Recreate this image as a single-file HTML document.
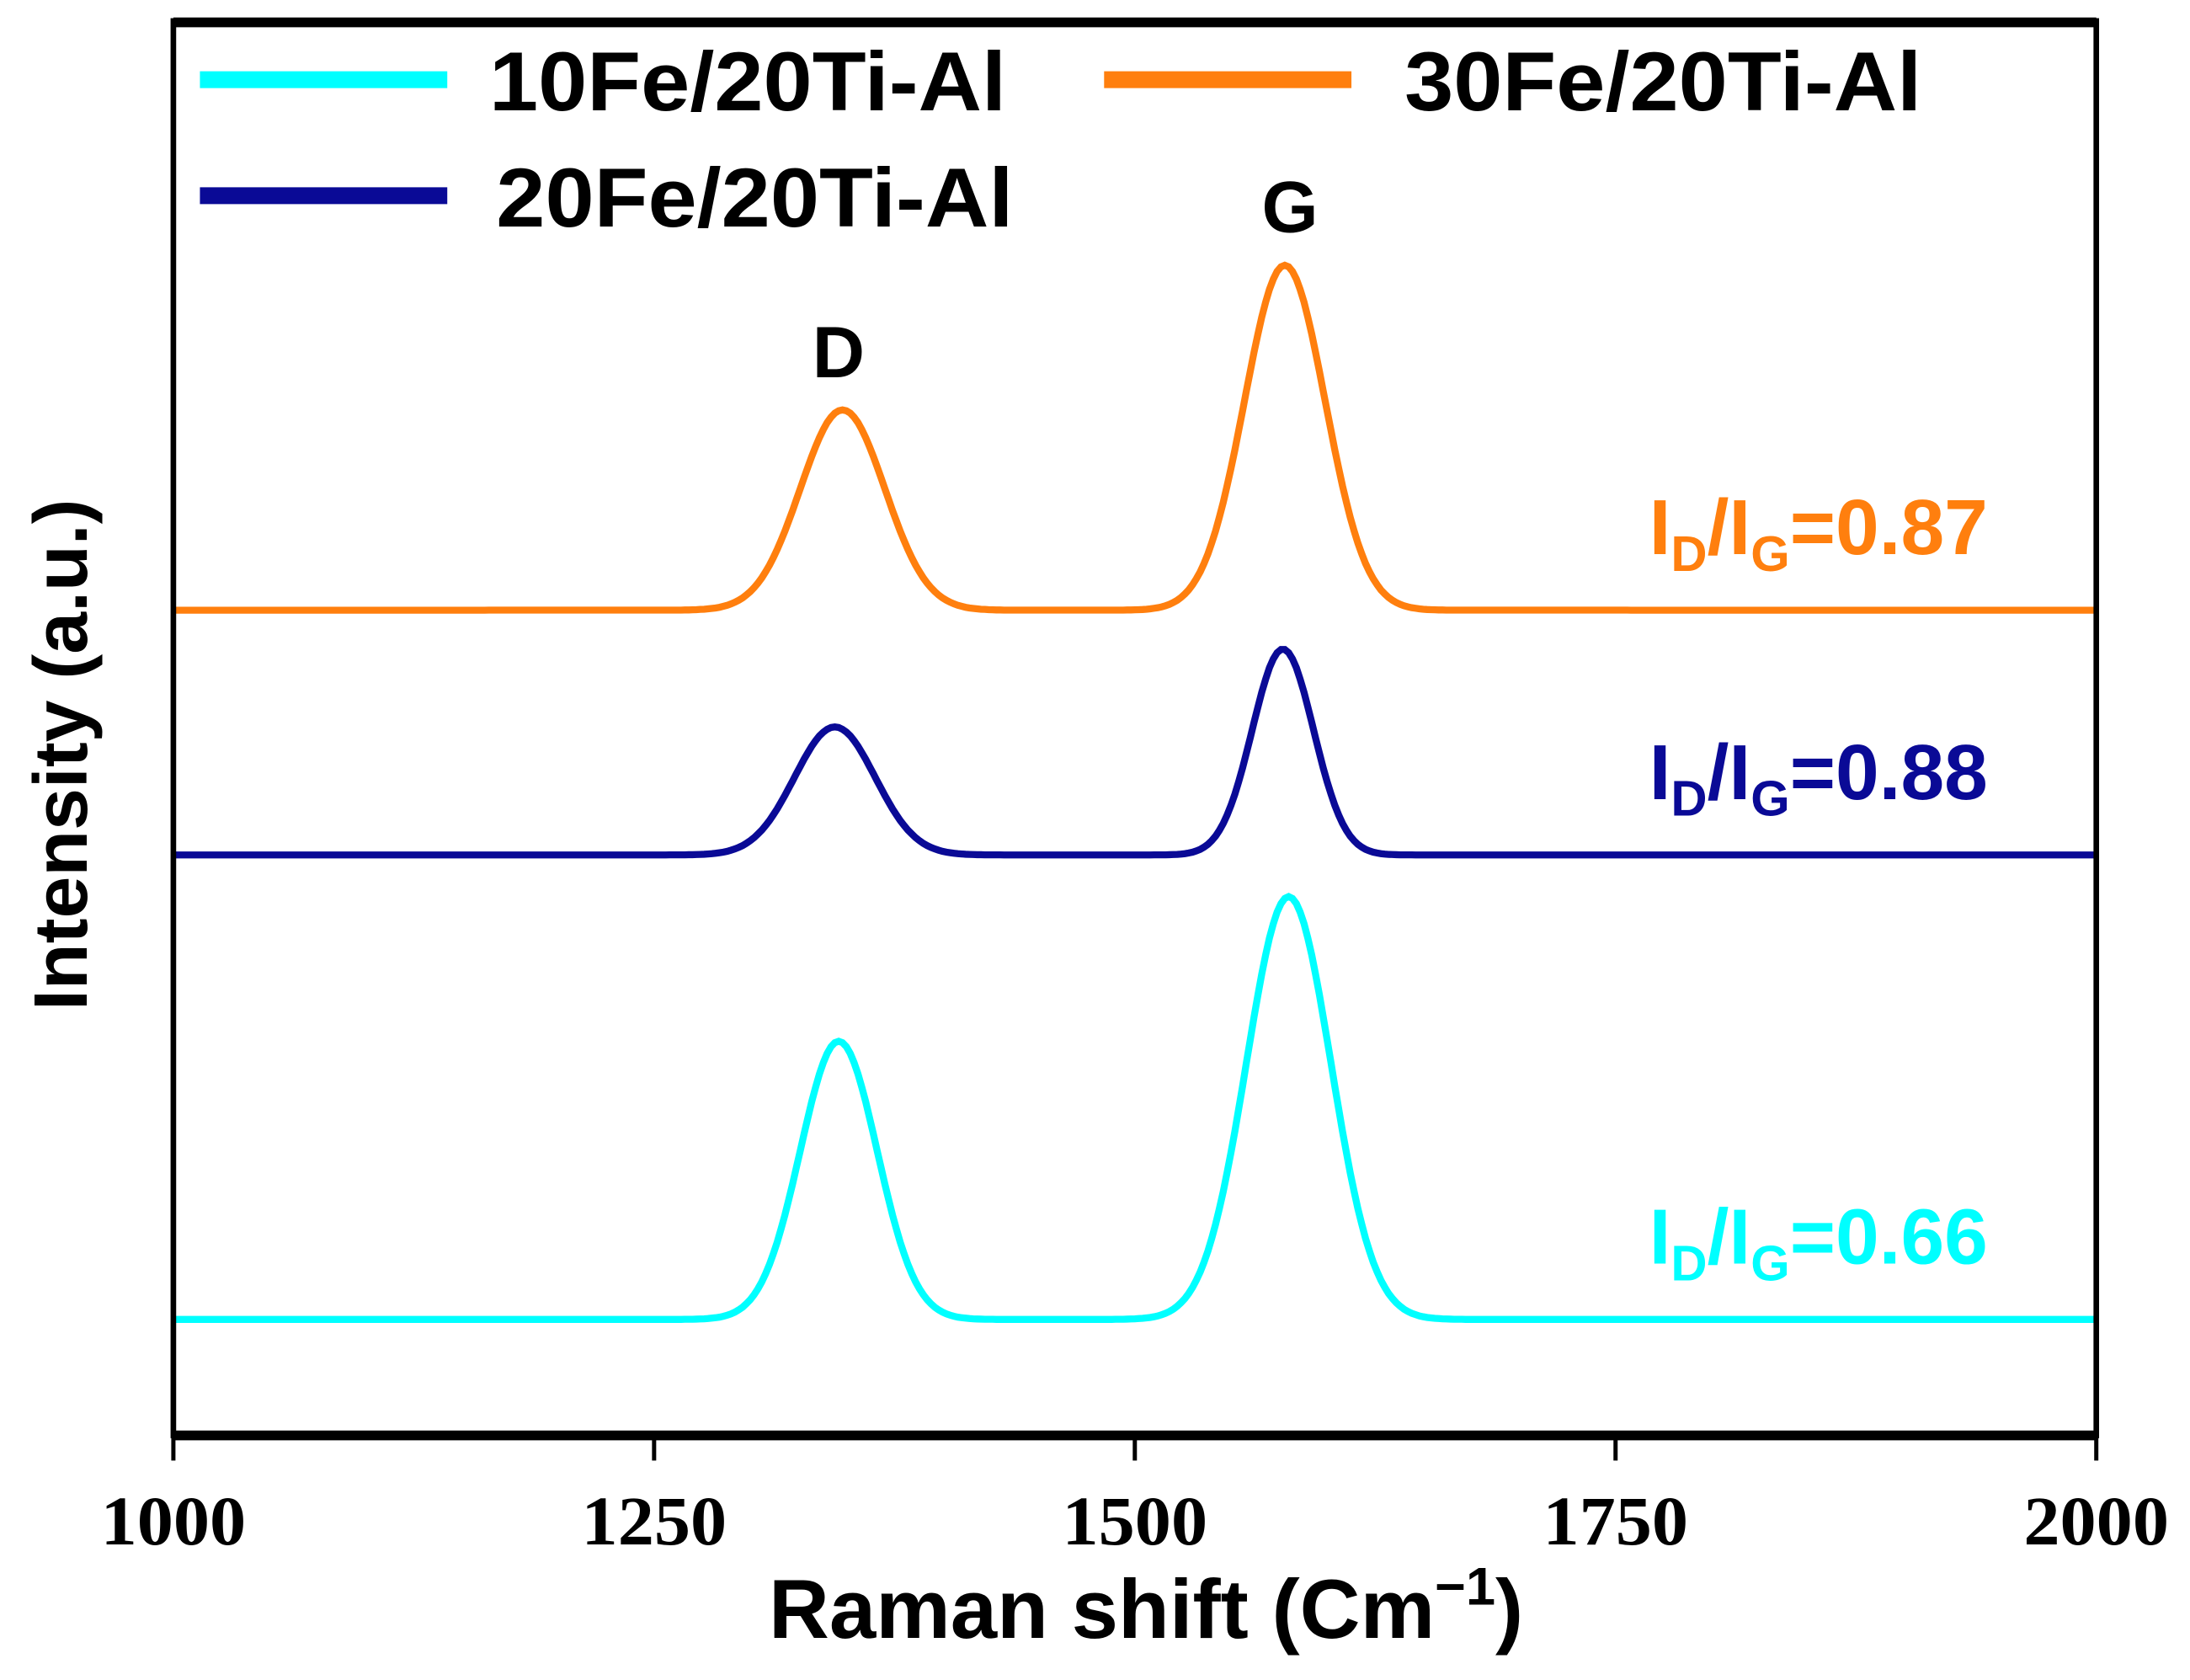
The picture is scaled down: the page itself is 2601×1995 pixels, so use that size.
<!DOCTYPE html>
<html><head><meta charset="utf-8"><style>html,body{margin:0;padding:0;background:#fff}svg{display:block}</style></head>
<body>
<svg width="2601" height="1995" viewBox="0 0 1567 1202" xmlns="http://www.w3.org/2000/svg" font-family="Liberation Sans, sans-serif">
<g id="plot"></g>
</svg>
<script>
const seriesNames = ["10Fe/20Ti-Al","20Fe/20Ti-Al","30Fe/20Ti-Al"];
const seriesColors = ["#00ffff","#0a0a96","#ff7f0e"];
const baselines = [0, 1.67, 2.55];
const dCenters = [1346, 1344, 1348];
const dHeights = [1.0, 0.46, 0.72];
const dWidths = [20, 21, 22];
const gCenters = [1580, 1577, 1578];
const gHeights = [1.52, 0.74, 1.24];
const gWidths = [22, 16, 21];
const ratios = ["0.66","0.88","0.87"];
const xTicks = [1000,1250,1500,1750,2000];

const NS="http://www.w3.org/2000/svg";
const g=document.getElementById('plot');
const X0=124,X1=1500,Y0=944,PPU=199;
const xs=v=>X0+(v-1000)/1000*(X1-X0);
const ys=v=>Y0-v*PPU;
function mk(t,a){const e=document.createElementNS(NS,t);for(const k in a)e.setAttribute(k,a[k]);g.appendChild(e);return e;}

for(let i=0;i<3;i++){
  let d="";
  for(let x=1000;x<=2000;x+=2){
    const v=baselines[i]+dHeights[i]*Math.exp(-((x-dCenters[i])**2)/(2*dWidths[i]**2))+gHeights[i]*Math.exp(-((x-gCenters[i])**2)/(2*gWidths[i]**2));
    d+=(x===1000?"M":"L")+xs(x).toFixed(1)+","+ys(v).toFixed(1);
  }
  const p=mk('path',{d:d,fill:'none',stroke:seriesColors[i],'stroke-width':5});
  
  
  const t=mk('text',{x:1180,y:ys(baselines[i])-40,fill:seriesColors[i],'font-size':56,'font-weight':'bold'});
  
  
  t.innerHTML='I<tspan font-size="36" dy="12">D</tspan><tspan dy="-12">/I</tspan><tspan font-size="36" dy="12">G</tspan><tspan dy="-12">='+ratios[i]+'</tspan>';
}
const fr=mk('rect',{x:X0,y:15,width:X1-X0,height:1012,fill:'none',stroke:'#000','stroke-width':4});


const ax=mk('line',{x1:X0,x2:X1,y1:1027,y2:1027,stroke:'#000','stroke-width':7});


const tp=mk('line',{x1:X0,x2:X1,y1:16,y2:16,stroke:'#000','stroke-width':7});


xTicks.forEach(v=>{
  const l=mk('line',{x1:xs(v),x2:xs(v),y1:1027,y2:1045,stroke:'#000','stroke-width':3});
  
  
  const t=mk('text',{x:xs(v)-52,y:1105,'font-family':'Liberation Serif, serif','font-weight':'bold','font-size':50,textLength:104,lengthAdjust:'spacingAndGlyphs'});
  
  
  t.textContent=v;
});
const leg=[[0,143,57,350],[2,790,57,1005],[1,143,140,355]];
leg.forEach(([i,lx,ly,tx])=>{
  const l=mk('line',{x1:lx,x2:lx+177,y1:ly,y2:ly,stroke:seriesColors[i],'stroke-width':12});
  
  
  const t=mk('text',{x:tx,y:ly+22,'font-size':60,'font-weight':'bold',textLength:370,lengthAdjust:'spacingAndGlyphs'});
  
  
  t.textContent=seriesNames[i];
});
const pk=[["D",600,270],["G",923,166]];
pk.forEach(([s,x,y])=>{
  const t=mk('text',{x:x,y:y,'text-anchor':'middle','font-size':52,'font-weight':'bold'});
  
  
  t.textContent=s;
});
const xt=mk('text',{x:820,y:1172,'text-anchor':'middle','font-size':60,'font-weight':'bold'});


xt.innerHTML='Raman shift (Cm<tspan font-size="38" dy="-24">−1</tspan><tspan dy="24">)</tspan>';
const yt=mk('text',{x:0,y:0,transform:'translate(62,540) rotate(-90)','text-anchor':'middle','font-size':54,'font-weight':'bold'});


yt.textContent='Intensity (a.u.)';
</script>
</body></html>
